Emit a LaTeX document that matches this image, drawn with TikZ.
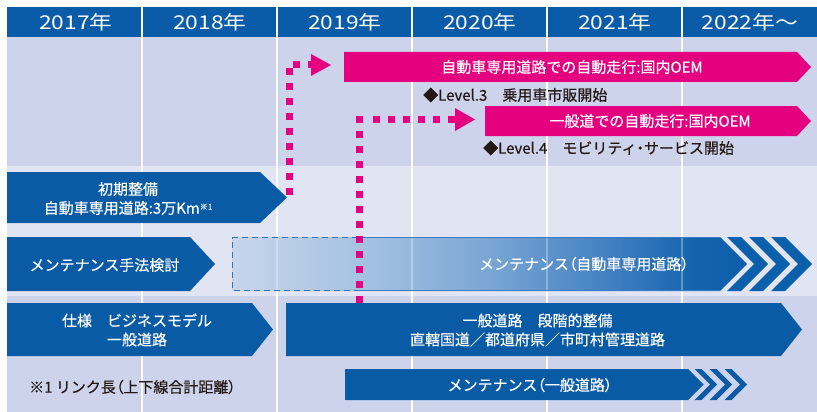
\documentclass[tikz,border=0pt]{standalone}
\usepackage{fontspec}
\setmainfont{Noto Sans CJK JP}
\newfontfamily\hdrfont[FakeStretch=1.2]{Noto Sans CJK JP}
\newfontfamily\txtfont[FakeBold=0.4]{Noto Sans CJK JP}
\newcommand{\pp}[1]{{\addfontfeature{RawFeature=+palt}#1}}
\usetikzlibrary{calc}
\definecolor{hdrblue}{HTML}{0A5CA8}
\definecolor{barblue}{HTML}{0A5BA6}
\definecolor{gblue}{HTML}{0C5FAA}
\definecolor{lav}{HTML}{CDD3EB}
\definecolor{lightlav}{HTML}{E1E4F2}
\definecolor{mag}{HTML}{E4007F}
\definecolor{txtdark}{HTML}{231815}
\definecolor{dashblue}{HTML}{2F73BA}
\definecolor{edgeblue}{HTML}{3C7BBF}
\definecolor{gA}{HTML}{C8D5EB}
\definecolor{gB}{HTML}{A6C2E2}
\definecolor{gC}{HTML}{7AA6D4}
\definecolor{gD}{HTML}{3D7DC0}
\definecolor{gE}{HTML}{1463AE}
\definecolor{gF}{HTML}{0C5FAA}
\pgfdeclarehorizontalshading{mgrad}{100bp}{color(0bp)=(gA); color(25bp)=(gA); color(37.5bp)=(gB); color(50bp)=(gC); color(62.5bp)=(gD); color(70bp)=(gE); color(75bp)=(gF); color(100bp)=(gF)}
\begin{document}
\begin{tikzpicture}[x=1pt,y=-1pt,
  hdrtxt/.style={text=white,font=\hdrfont\fontsize{19}{21}\selectfont,inner sep=0},
  bartxt/.style={text=white,font=\txtfont\fontsize{15}{19}\selectfont,inner sep=0,align=center},
  darktxt/.style={text=txtdark,font=\txtfont\fontsize{15}{19}\selectfont,inner sep=0},
  dots/.style={draw=mag,line width=7pt,dash pattern=on 7pt off 8pt},
  colline/.style={draw=white,line width=2pt}]
\useasboundingbox (0,0) rectangle (817,412);
% backgrounds
\fill[white] (0,0) rectangle (817,412);
\fill[hdrblue] (7,7) rectangle (817,37);
\fill[lav] (7,37) rectangle (817,166);
\fill[lightlav] (7,166) rectangle (817,296);
\fill[lav] (7,296) rectangle (817,412);
\foreach \x in {142,277,412,547,682} \draw[colline] (\x,7) -- (\x,412);
% header
\node[hdrtxt] (h1) at (76,22.5) {2017年};
\node[hdrtxt] (h2) at (210,22.5) {2018年};
\node[hdrtxt] (h3) at (345,22.5) {2019年};
\node[hdrtxt] (h4) at (480,22.5) {2020年};
\node[hdrtxt] (h5) at (615,22.5) {2021年};
\node[hdrtxt] (h6) at (750,22.5) {2022年～};
% magenta bars
\fill[mag] (344,52) -- (797,52) -- (811,67) -- (797,82) -- (344,82) -- cycle;
\node[bartxt] (m1) at (572,67) {自動車専用道路での自動走行:国内OEM};
\fill[mag] (485,106) -- (797,106) -- (811,121) -- (797,136) -- (485,136) -- cycle;
\node[bartxt] (m2) at (650,121) {一般道での自動走行:国内OEM};
\node[darktxt,anchor=west] (l3) at (423,95) {◆Level.3　乗用車市販開始};
\node[darktxt,anchor=west] (l4) at (483,148) {◆Level.4　モビリティ\pp{・}サービス開始};
% blue bar A
\fill[barblue] (7,172) -- (260,172) -- (287,197.5) -- (260,223) -- (7,223) -- cycle;
\node[bartxt] (a) at (128,198.5) {初期整備\\自動車専用道路:3万Km\raisebox{4pt}{\fontsize{8}{8}\selectfont ※1}};
% blue bar B
\fill[barblue] (7,237) -- (190,237) -- (215,264) -- (190,291) -- (7,291) -- cycle;
\node[bartxt] (b) at (104.5,265) {メンテナンス手法検討};
% gradient arrow
\shade[shading=mgrad] (232,237) -- (720,237) -- (747,264) -- (720,291) -- (232,291) -- cycle;
\foreach \x in {277,412,547,682} \draw[white,opacity=0.3,line width=1.5pt] (\x,237) -- (\x,291);
\draw[dashblue,line width=1.2pt,dash pattern=on 6pt off 4pt] (358,237.6) -- (232.6,237.6) -- (232.6,290.4) -- (358,290.4);
\draw[edgeblue,line width=0.8pt] (358,237.4) -- (720,237.4);
\draw[edgeblue,line width=0.8pt] (358,290.6) -- (720,290.6);
\foreach \x in {727,749,771} \fill[gblue] (\x,237) -- ++(14,0) -- ++(27,27) -- ++(-27,27) -- ++(-14,0) -- ++(27,-27) -- cycle;
\node[bartxt] (g) at (584,264) {メンテナンス\pp{（}自動車専用道路\pp{）}};
% blue bar C
\fill[barblue] (7,303) -- (252,303) -- (273,329.5) -- (252,356) -- (7,356) -- cycle;
\node[bartxt] (c) at (137,330) {仕様　ビジネスモデル\\一般道路};
% blue bar D
\fill[barblue] (286,303) -- (781,303) -- (802,329.5) -- (781,356) -- (286,356) -- cycle;
\node[bartxt] (d) at (537.5,330) {一般道路　段階的整備\\直轄国道／都道府県／市町村管理道路};
% small bar
\fill[barblue] (345,369) -- (688,369) -- (703.5,384.5) -- (688,400) -- (345,400) -- cycle;
\foreach \x in {694.5,709.5,724.5} \fill[barblue] (\x,369) -- ++(7,0) -- ++(15.5,15.5) -- ++(-15.5,15.5) -- ++(-7,0) -- ++(15.5,-15.5) -- cycle;
\node[bartxt] (s) at (530,385) {メンテナンス\pp{（}一般道路\pp{）}};
\node[darktxt,anchor=west] (note) at (29,387) {※1 リンク長\pp{（}上下線合計距離\pp{）}};
% dotted connectors
\coordinate (p1a) at (289,196);
\coordinate (p1b) at (289,68);
\coordinate (p1c) at (293,65);
\coordinate (p1d) at (313,65);
\draw[dots] (p1b) -- (p1a);
\draw[dots] (p1c) -- (p1d);
\fill[mag] (311,54) -- (331,65) -- (311,76) -- cycle;
\coordinate (p2a) at (359.5,303);
\coordinate (p2b) at (359.5,116);
\coordinate (p2c) at (373,119.5);
\coordinate (p2d) at (455,119.5);
\draw[dots] (p2b) -- (p2a);
\draw[dots] (p2c) -- (p2d);
\fill[mag] (455,108) -- (475,119.5) -- (455,131) -- cycle;
\end{tikzpicture}
\end{document}
